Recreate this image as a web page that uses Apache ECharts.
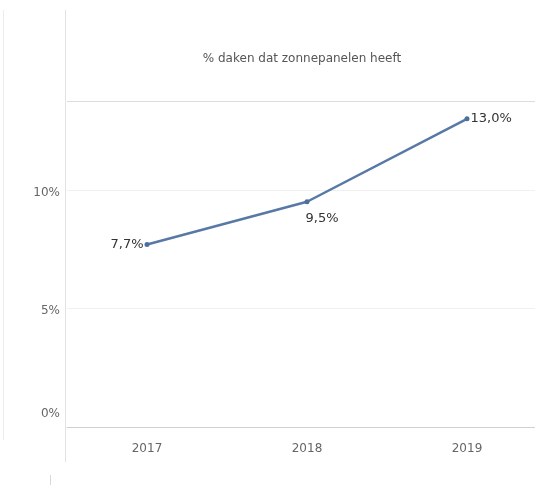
<!DOCTYPE html>
<html><head><meta charset="utf-8">
<script src="https://cdn.jsdelivr.net/npm/echarts@6/dist/echarts.min.js"></script>
<style>html,body{margin:0;padding:0;background:#fff}#c{width:535px;height:485px}</style>
</head><body><div id="c"></div>
<script>
var title = '% daken dat zonnepanelen heeft';
var years = ['2017', '2018', '2019'];
var share = [7.7, 9.5, 13.0];
var yTicks = [0, 5, 10];

function fmt(v){ return v.toFixed(1).replace('.', ',') + '%'; }
var labelStyles = [
  {position: 'left', distance: 1},
  {position: 'bottom', distance: 8, offset: [15, 0]},
  {position: 'right', distance: 1}
];
var font = 'DejaVu Sans';
var chart = echarts.init(document.getElementById('c'), null, {renderer: 'canvas'});
chart.setOption({
  animation: false,
  textStyle: {fontFamily: font},
  grid: {left: 67, width: 480, top: 101, bottom: 58, containLabel: false, outerBoundsMode: 'none'},
  graphic: [
    {type: 'line', shape: {x1: 3.5, y1: 10, x2: 3.5, y2: 440}, style: {stroke: '#ececec', lineWidth: 1}},
    {type: 'line', shape: {x1: 65.5, y1: 10, x2: 65.5, y2: 462}, style: {stroke: '#e2e2e2', lineWidth: 1}},
    {type: 'line', shape: {x1: 50.5, y1: 475, x2: 50.5, y2: 485}, style: {stroke: '#d8d8d8', lineWidth: 1}},
    {type: 'text', x: 302, y: 59, style: {text: title, fill: '#555', fontSize: 12, fontFamily: font, align: 'center', verticalAlign: 'middle'}}
  ],
  xAxis: {
    type: 'category', data: years, boundaryGap: true,
    axisLine: {show: true, lineStyle: {color: '#d0d0d0', width: 1}},
    axisTick: {show: false},
    axisLabel: {color: '#666', fontSize: 12, margin: 16, fontFamily: font}
  },
  yAxis: {
    type: 'value', min: 0, max: 13.75, interval: 5,
    axisLine: {show: false}, axisTick: {show: false},
    axisLabel: {color: '#666', fontSize: 12, margin: 7, fontFamily: font,
      formatter: function(v){
        if (yTicks.indexOf(v) < 0) return '';
        return v === 0 ? '{z|' + v + '%}' : '{n|' + v + '%}';
      },
      rich: {
        z: {color: '#666', fontSize: 12, fontFamily: font, padding: [0, 0, 26, 0]},
        n: {color: '#666', fontSize: 12, fontFamily: font, padding: [5, 0, 0, 0]}
      }
    },
    splitLine: {show: true, lineStyle: {color: ['#d0d0d0', '#f0f0f0', '#f0f0f0', '#dcdcdc'], width: 1}}
  },
  series: [{
    type: 'line',
    data: share.map(function(v, i){ return {value: v, label: labelStyles[i]}; }),
    symbol: 'circle', symbolSize: 5,
    lineStyle: {color: '#5878a6', width: 2.5},
    itemStyle: {color: '#4e6f9e'},
    label: {show: true, color: '#333', fontSize: 13, fontFamily: font,
      formatter: function(p){ return fmt(p.value); }}
  }]
});
</script></body></html>
